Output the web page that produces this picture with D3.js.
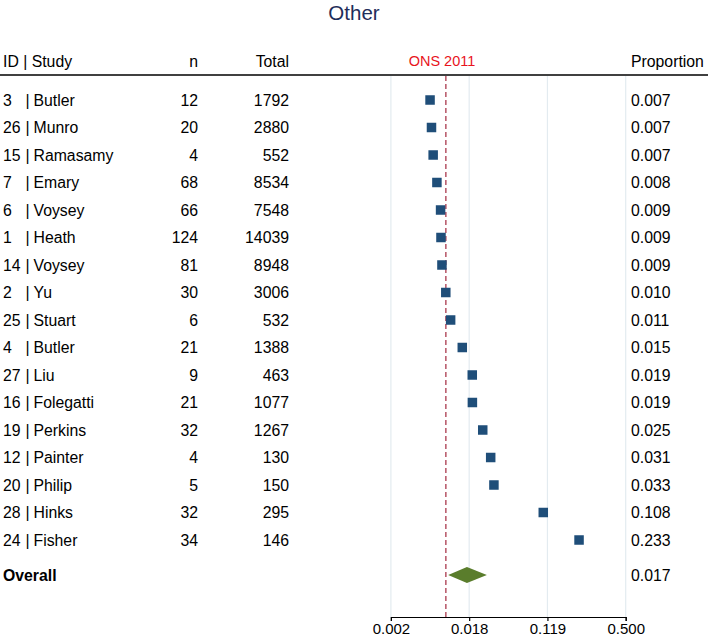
<!DOCTYPE html>
<html><head><meta charset="utf-8">
<script src="https://cdn.jsdelivr.net/npm/d3@7"></script>
<style>body{margin:0;background:#fff;} text{font-family:"Liberation Sans",Arial,sans-serif;}</style>
</head><body><svg id="c" width="708" height="637"></svg>
<script>
const ids = [3,26,15,7,6,1,14,2,25,4,27,16,19,12,20,28,24];
const studies = ["Butler","Munro","Ramasamy","Emary","Voysey","Heath","Voysey","Yu","Stuart","Butler","Liu","Folegatti","Perkins","Painter","Philip","Hinks","Fisher"];
const nVals = [12,20,4,68,66,124,81,30,6,21,9,21,32,4,5,32,34];
const totals = [1792,2880,552,8534,7548,14039,8948,3006,532,1388,463,1077,1267,130,150,295,146];
const proportions = ["0.007","0.007","0.007","0.008","0.009","0.009","0.009","0.010","0.011","0.015","0.019","0.019","0.025","0.031","0.033","0.108","0.233"];
const overall = {est:0.017, lo:0.0106, hi:0.028, label:"0.017"};
const onsRef = 0.01;
const tickLogits = [-6,-4,-2,0];

const FS = 15.8;
const svg = d3.select("#c");
const logit = p => Math.log(p/(1-p));
const invlogit = l => 1/(1+Math.exp(-l));
const x = d3.scaleLinear().domain([-6,0]).range([390.9,625.7]);
const rows = ids.map((d,i)=>i);
const y = d3.scalePoint().domain(d3.range(ids.length+1)).range([100, 100+27.5*17]);
const yOverall = 575;
const axisY = 617, gridTop = 76;

svg.append("text").attr("x",354).attr("y",20).attr("text-anchor","middle")
  .attr("font-size",20.5).attr("fill","#1f2d5a").text("Other");

// headers
const hy = 67;
svg.append("text").attr("x",3).attr("y",hy).attr("font-size",FS).text("ID | Study");
svg.append("text").attr("x",198).attr("y",hy).attr("font-size",FS).attr("text-anchor","end").text("n");
svg.append("text").attr("x",289).attr("y",hy).attr("font-size",FS).attr("text-anchor","end").text("Total");
svg.append("text").attr("x",631).attr("y",hy).attr("font-size",FS).text("Proportion");
svg.append("text").attr("x",442).attr("y",hy-1).attr("font-size",14.5).attr("text-anchor","middle").attr("fill","#e8141c").text("ONS 2011");
svg.append("line").attr("x1",0).attr("x2",708).attr("y1",75).attr("y2",75).attr("stroke","#000").attr("stroke-width",1.5);

// gridlines
svg.append("g").selectAll("line").data(tickLogits).join("line")
  .attr("x1",d=>x(d)).attr("x2",d=>x(d)).attr("y1",gridTop).attr("y2",axisY)
  .attr("stroke","#e3ebf0").attr("stroke-width",1.2);

// ref line
svg.append("line").attr("x1",x(logit(onsRef))).attr("x2",x(logit(onsRef))).attr("y1",gridTop).attr("y2",axisY)
  .attr("stroke","#a3283e").attr("stroke-width",1.2).attr("stroke-dasharray","5,3");

// axis
const axis = d3.axisBottom(x).tickValues(tickLogits).tickSize(4).tickPadding(2).tickFormat(d=>invlogit(d).toFixed(3));
const ag = svg.append("g").attr("transform",`translate(0,${axisY})`).call(axis);
ag.select(".domain").attr("stroke","#000").attr("stroke-width",1.2);
ag.selectAll(".tick line").attr("stroke","#000").attr("stroke-width",1.2);
ag.selectAll("text").attr("font-size",15).attr("fill","#000").attr("dy","0.75em").style("font-family","Liberation Sans, Arial, sans-serif");

// rows
const g = svg.append("g");
rows.forEach(i=>{
  const yy = y(i);
  g.append("text").attr("x",3).attr("y",yy+5.5).attr("font-size",FS).text(ids[i]);
  g.append("text").attr("x",25.5).attr("y",yy+5.5).attr("font-size",FS).text("|");
  g.append("text").attr("x",33.5).attr("y",yy+5.5).attr("font-size",FS).text(studies[i]);
  g.append("text").attr("x",198).attr("y",yy+5.5).attr("font-size",FS).attr("text-anchor","end").text(nVals[i]);
  g.append("text").attr("x",289).attr("y",yy+5.5).attr("font-size",FS).attr("text-anchor","end").text(totals[i]);
  g.append("text").attr("x",631).attr("y",yy+5.5).attr("font-size",FS).text(proportions[i]);
  const cx = x(logit(nVals[i]/totals[i]));
  g.append("rect").attr("x",cx-4.75).attr("y",yy-4.75).attr("width",9.5).attr("height",9.5).attr("fill","#1f4e79");
});

// overall
svg.append("text").attr("x",3).attr("y",yOverall+5.5).attr("font-size",FS).attr("font-weight","bold").text("Overall");
svg.append("text").attr("x",631).attr("y",yOverall+5.5).attr("font-size",FS).text(overall.label);
const xl = x(logit(overall.lo)), xc = x(logit(overall.est)), xh = x(logit(overall.hi));
svg.append("path").attr("d",`M${xl},${yOverall}L${xc},${yOverall-8}L${xh},${yOverall}L${xc},${yOverall+8}Z`).attr("fill","#5a7d2c");
</script></body></html>
